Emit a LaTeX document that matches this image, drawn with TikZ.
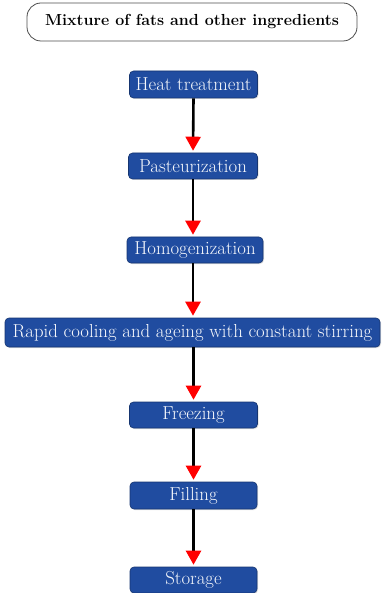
\documentclass[tikz,border=0pt]{standalone}
\usetikzlibrary{arrows.meta,shadows}
\definecolor{boxblue}{RGB}{32,76,160}
\definecolor{boxtext}{RGB}{246,248,252}
\tikzset{
  x=1pt,y=-1pt,
  stepbox/.style={draw=boxblue!70!black,line width=0.6pt,fill=boxblue,rounded corners=4pt,
    text=boxtext,font=\fontsize{18.8}{20}\selectfont,inner sep=0pt,
    drop shadow={shadow xshift=1pt,shadow yshift=-1pt,opacity=0.25}},
  flow/.style={line width=2.6pt,black,shorten >=2pt,
    -{Triangle[width=15pt,length=14pt,color=red,fill=red]}},
}
\begin{document}
\begin{tikzpicture}
\useasboundingbox (0,0) rectangle (383,593);
\node[draw=black!70,line width=0.8pt,rounded corners=14pt,minimum width=330pt,minimum height=38pt,inner sep=0pt,
  font=\bfseries\fontsize{16}{18}\selectfont] (mix) at (192,22) {Mixture of fats and other ingredients};
\node[stepbox,minimum width=128pt,minimum height=27pt] (heat) at (193.5,84.5) {Heat treatment};
\node[stepbox,minimum width=129pt,minimum height=26pt] (past) at (193,166) {Pasteurization};
\node[stepbox,minimum width=136pt,minimum height=26pt] (homo) at (195,250) {Homogenization};
\node[stepbox,minimum width=375pt,minimum height=29pt] (rapid) at (192.5,332.5) {Rapid cooling and ageing with constant stirring};
\node[stepbox,minimum width=128pt,minimum height=26pt] (freeze) at (193.5,415) {Freezing};
\node[stepbox,minimum width=127pt,minimum height=27pt] (fill) at (193.5,495.5) {Filling};
\node[stepbox,minimum width=127pt,minimum height=26pt] (store) at (193.5,580) {Storage};
\draw[flow] (heat.south) -- (past.north);
\draw[flow] (past.south) -- (homo.north -| past.south);
\draw[flow] (homo.south -| past.south) -- (rapid.north -| past.south);
\draw[flow] (rapid.south -| freeze.north) -- (freeze.north);
\draw[flow] (freeze.south) -- (fill.north);
\draw[flow] (fill.south) -- (store.north);
\end{tikzpicture}
\end{document}
